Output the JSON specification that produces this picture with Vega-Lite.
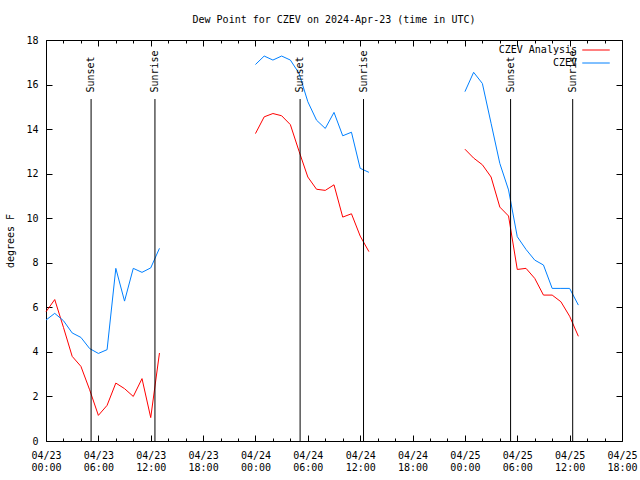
{
  "$schema": "https://vega.github.io/schema/vega-lite/v6.json",
  "width": 576,
  "height": 401,
  "autosize": {"type": "none"},
  "padding": {"left": 46, "top": 40, "right": 18, "bottom": 39},
  "background": "white",
  "title": {"text": "Dew Point for CZEV on 2024-Apr-23 (time in UTC)", "font": "DejaVu Sans Mono", "fontSize": 10, "fontWeight": "normal", "color": "black", "anchor": "middle", "offset": 10},
  "config": {
    "view": {"stroke": "black", "strokeWidth": 1},
    "font": "DejaVu Sans Mono",
    "axis": {"domain": false, "grid": false, "labelFont": "DejaVu Sans Mono", "labelFontSize": 10, "labelColor": "black", "tickColor": "black", "tickWidth": 1, "titleFont": "DejaVu Sans Mono", "titleFontSize": 10, "titleFontWeight": "normal", "titleColor": "black"}
  },
  "datasets": {
    "obs": [
      {"t": "2024-04-23T00:00Z", "s": "CZEV Analysis", "g": 1, "v": 5.8},
      {"t": "2024-04-23T01:00Z", "s": "CZEV Analysis", "g": 1, "v": 6.35},
      {"t": "2024-04-23T02:00Z", "s": "CZEV Analysis", "g": 1, "v": 5.1},
      {"t": "2024-04-23T03:00Z", "s": "CZEV Analysis", "g": 1, "v": 3.8},
      {"t": "2024-04-23T04:00Z", "s": "CZEV Analysis", "g": 1, "v": 3.35},
      {"t": "2024-04-23T05:00Z", "s": "CZEV Analysis", "g": 1, "v": 2.3},
      {"t": "2024-04-23T06:00Z", "s": "CZEV Analysis", "g": 1, "v": 1.15},
      {"t": "2024-04-23T07:00Z", "s": "CZEV Analysis", "g": 1, "v": 1.6},
      {"t": "2024-04-23T08:00Z", "s": "CZEV Analysis", "g": 1, "v": 2.6},
      {"t": "2024-04-23T09:00Z", "s": "CZEV Analysis", "g": 1, "v": 2.35},
      {"t": "2024-04-23T10:00Z", "s": "CZEV Analysis", "g": 1, "v": 2.0},
      {"t": "2024-04-23T11:00Z", "s": "CZEV Analysis", "g": 1, "v": 2.8},
      {"t": "2024-04-23T12:00Z", "s": "CZEV Analysis", "g": 1, "v": 1.05},
      {"t": "2024-04-23T13:00Z", "s": "CZEV Analysis", "g": 1, "v": 3.95},
      {"t": "2024-04-24T00:00Z", "s": "CZEV Analysis", "g": 2, "v": 13.8},
      {"t": "2024-04-24T01:00Z", "s": "CZEV Analysis", "g": 2, "v": 14.55},
      {"t": "2024-04-24T02:00Z", "s": "CZEV Analysis", "g": 2, "v": 14.7},
      {"t": "2024-04-24T03:00Z", "s": "CZEV Analysis", "g": 2, "v": 14.6},
      {"t": "2024-04-24T04:00Z", "s": "CZEV Analysis", "g": 2, "v": 14.2},
      {"t": "2024-04-24T05:00Z", "s": "CZEV Analysis", "g": 2, "v": 13.0},
      {"t": "2024-04-24T06:00Z", "s": "CZEV Analysis", "g": 2, "v": 11.85},
      {"t": "2024-04-24T07:00Z", "s": "CZEV Analysis", "g": 2, "v": 11.3},
      {"t": "2024-04-24T08:00Z", "s": "CZEV Analysis", "g": 2, "v": 11.25},
      {"t": "2024-04-24T09:00Z", "s": "CZEV Analysis", "g": 2, "v": 11.5},
      {"t": "2024-04-24T10:00Z", "s": "CZEV Analysis", "g": 2, "v": 10.05},
      {"t": "2024-04-24T11:00Z", "s": "CZEV Analysis", "g": 2, "v": 10.2},
      {"t": "2024-04-24T12:00Z", "s": "CZEV Analysis", "g": 2, "v": 9.2},
      {"t": "2024-04-24T13:00Z", "s": "CZEV Analysis", "g": 2, "v": 8.5},
      {"t": "2024-04-25T00:00Z", "s": "CZEV Analysis", "g": 3, "v": 13.1},
      {"t": "2024-04-25T01:00Z", "s": "CZEV Analysis", "g": 3, "v": 12.7},
      {"t": "2024-04-25T02:00Z", "s": "CZEV Analysis", "g": 3, "v": 12.4},
      {"t": "2024-04-25T03:00Z", "s": "CZEV Analysis", "g": 3, "v": 11.85},
      {"t": "2024-04-25T04:00Z", "s": "CZEV Analysis", "g": 3, "v": 10.5},
      {"t": "2024-04-25T05:00Z", "s": "CZEV Analysis", "g": 3, "v": 10.1},
      {"t": "2024-04-25T06:00Z", "s": "CZEV Analysis", "g": 3, "v": 7.7},
      {"t": "2024-04-25T07:00Z", "s": "CZEV Analysis", "g": 3, "v": 7.75},
      {"t": "2024-04-25T08:00Z", "s": "CZEV Analysis", "g": 3, "v": 7.3},
      {"t": "2024-04-25T09:00Z", "s": "CZEV Analysis", "g": 3, "v": 6.55},
      {"t": "2024-04-25T10:00Z", "s": "CZEV Analysis", "g": 3, "v": 6.55},
      {"t": "2024-04-25T11:00Z", "s": "CZEV Analysis", "g": 3, "v": 6.25},
      {"t": "2024-04-25T12:00Z", "s": "CZEV Analysis", "g": 3, "v": 5.6},
      {"t": "2024-04-25T13:00Z", "s": "CZEV Analysis", "g": 3, "v": 4.7},
      {"t": "2024-04-23T00:00Z", "s": "CZEV", "g": 4, "v": 5.43},
      {"t": "2024-04-23T01:00Z", "s": "CZEV", "g": 4, "v": 5.73},
      {"t": "2024-04-23T02:00Z", "s": "CZEV", "g": 4, "v": 5.4},
      {"t": "2024-04-23T03:00Z", "s": "CZEV", "g": 4, "v": 4.85},
      {"t": "2024-04-23T04:00Z", "s": "CZEV", "g": 4, "v": 4.65},
      {"t": "2024-04-23T05:00Z", "s": "CZEV", "g": 4, "v": 4.15},
      {"t": "2024-04-23T06:00Z", "s": "CZEV", "g": 4, "v": 3.93},
      {"t": "2024-04-23T07:00Z", "s": "CZEV", "g": 4, "v": 4.1},
      {"t": "2024-04-23T08:00Z", "s": "CZEV", "g": 4, "v": 7.75},
      {"t": "2024-04-23T09:00Z", "s": "CZEV", "g": 4, "v": 6.28},
      {"t": "2024-04-23T10:00Z", "s": "CZEV", "g": 4, "v": 7.75},
      {"t": "2024-04-23T11:00Z", "s": "CZEV", "g": 4, "v": 7.57},
      {"t": "2024-04-23T12:00Z", "s": "CZEV", "g": 4, "v": 7.77},
      {"t": "2024-04-23T13:00Z", "s": "CZEV", "g": 4, "v": 8.65},
      {"t": "2024-04-24T00:00Z", "s": "CZEV", "g": 5, "v": 16.9},
      {"t": "2024-04-24T01:00Z", "s": "CZEV", "g": 5, "v": 17.28},
      {"t": "2024-04-24T02:00Z", "s": "CZEV", "g": 5, "v": 17.1},
      {"t": "2024-04-24T03:00Z", "s": "CZEV", "g": 5, "v": 17.28},
      {"t": "2024-04-24T04:00Z", "s": "CZEV", "g": 5, "v": 17.1},
      {"t": "2024-04-24T05:00Z", "s": "CZEV", "g": 5, "v": 16.5},
      {"t": "2024-04-24T06:00Z", "s": "CZEV", "g": 5, "v": 15.23},
      {"t": "2024-04-24T07:00Z", "s": "CZEV", "g": 5, "v": 14.4},
      {"t": "2024-04-24T08:00Z", "s": "CZEV", "g": 5, "v": 14.03},
      {"t": "2024-04-24T09:00Z", "s": "CZEV", "g": 5, "v": 14.75},
      {"t": "2024-04-24T10:00Z", "s": "CZEV", "g": 5, "v": 13.7},
      {"t": "2024-04-24T11:00Z", "s": "CZEV", "g": 5, "v": 13.86},
      {"t": "2024-04-24T12:00Z", "s": "CZEV", "g": 5, "v": 12.24},
      {"t": "2024-04-24T13:00Z", "s": "CZEV", "g": 5, "v": 12.06},
      {"t": "2024-04-25T00:00Z", "s": "CZEV", "g": 6, "v": 15.68},
      {"t": "2024-04-25T01:00Z", "s": "CZEV", "g": 6, "v": 16.55},
      {"t": "2024-04-25T02:00Z", "s": "CZEV", "g": 6, "v": 16.05},
      {"t": "2024-04-25T03:00Z", "s": "CZEV", "g": 6, "v": 14.26},
      {"t": "2024-04-25T04:00Z", "s": "CZEV", "g": 6, "v": 12.46},
      {"t": "2024-04-25T05:00Z", "s": "CZEV", "g": 6, "v": 11.27},
      {"t": "2024-04-25T06:00Z", "s": "CZEV", "g": 6, "v": 9.17},
      {"t": "2024-04-25T07:00Z", "s": "CZEV", "g": 6, "v": 8.6},
      {"t": "2024-04-25T08:00Z", "s": "CZEV", "g": 6, "v": 8.12},
      {"t": "2024-04-25T09:00Z", "s": "CZEV", "g": 6, "v": 7.9},
      {"t": "2024-04-25T10:00Z", "s": "CZEV", "g": 6, "v": 6.85},
      {"t": "2024-04-25T11:00Z", "s": "CZEV", "g": 6, "v": 6.85},
      {"t": "2024-04-25T12:00Z", "s": "CZEV", "g": 6, "v": 6.85},
      {"t": "2024-04-25T13:00Z", "s": "CZEV", "g": 6, "v": 6.1}
    ],
    "sun": [
      {"t": "2024-04-23T05:10Z", "e": "Sunset"},
      {"t": "2024-04-23T12:29Z", "e": "Sunrise"},
      {"t": "2024-04-24T05:07Z", "e": "Sunset"},
      {"t": "2024-04-24T12:23Z", "e": "Sunrise"},
      {"t": "2024-04-25T05:14Z", "e": "Sunset"},
      {"t": "2024-04-25T12:21Z", "e": "Sunrise"}
    ]
  },
  "layer": [
    {
      "data": {"name": "obs"},
      "mark": {"type": "line", "strokeWidth": 1},
      "encoding": {
        "x": {
          "field": "t", "type": "temporal",
          "scale": {"type": "utc", "nice": false, "domain": [1713830400000, 1714068000000]},
          "axis": {
            "orient": "bottom", "title": null, "offset": -6,
            "values": [1713830400000, 1713837600000, 1713844800000, 1713852000000, 1713859200000, 1713866400000, 1713873600000, 1713880800000, 1713888000000, 1713895200000, 1713902400000, 1713909600000, 1713916800000, 1713924000000, 1713931200000, 1713938400000, 1713945600000, 1713952800000, 1713960000000, 1713967200000, 1713974400000, 1713981600000, 1713988800000, 1713996000000, 1714003200000, 1714010400000, 1714017600000, 1714024800000, 1714032000000, 1714039200000, 1714046400000, 1714053600000, 1714060800000, 1714068000000],
            "tickSize": 6,
            "tickDash": {"condition": {"test": "utchours(datum.value) % 6 != 0", "value": [0, 3, 3, 20]}, "value": [6, 20]},
            "labelExpr": "utchours(datum.value) % 6 == 0 ? [utcFormat(datum.value, '%m/%d'), utcFormat(datum.value, '%H:%M')] : ''",
            "labelPadding": 9, "labelBaseline": "top", "labelLineHeight": 12,
            "labelOverlap": false, "labelFlush": false, "labelBound": false
          }
        },
        "y": {
          "field": "v", "type": "quantitative",
          "scale": {"domain": [0, 18], "nice": false},
          "axis": {"orient": "left", "offset": -6, "title": "degrees F", "values": [0, 2, 4, 6, 8, 10, 12, 14, 16, 18], "tickSize": 6, "labelPadding": 8, "titlePadding": 10}
        },
        "color": {
          "field": "s", "type": "nominal",
          "scale": {"domain": ["CZEV Analysis", "CZEV"], "range": ["#ff0000", "#0080ff"]},
          "legend": {"orient": "none", "legendX": 544, "legendY": 4, "title": null, "padding": 0, "symbolType": "M-2.5,0H2.5", "symbolSize": 121, "symbolStrokeWidth": 1, "labelAlign": "right", "labelOffset": -25, "labelFont": "DejaVu Sans Mono", "labelFontSize": 10, "labelColor": "black", "rowPadding": 2, "labelLimit": 0}
        },
        "detail": {"field": "g", "type": "nominal"}
      }
    },
    {
      "data": {"name": "sun"},
      "mark": {"type": "rule", "color": "black", "strokeWidth": 1},
      "encoding": {
        "x": {
          "field": "t", "type": "temporal",
          "axis": {"orient": "top", "offset": -6, "title": null, "labels": false,
            "values": [1713830400000, 1713837600000, 1713844800000, 1713852000000, 1713859200000, 1713866400000, 1713873600000, 1713880800000, 1713888000000, 1713895200000, 1713902400000, 1713909600000, 1713916800000, 1713924000000, 1713931200000, 1713938400000, 1713945600000, 1713952800000, 1713960000000, 1713967200000, 1713974400000, 1713981600000, 1713988800000, 1713996000000, 1714003200000, 1714010400000, 1714017600000, 1714024800000, 1714032000000, 1714039200000, 1714046400000, 1714053600000, 1714060800000, 1714068000000],
            "tickSize": 6,
            "tickDash": {"condition": {"test": "utchours(datum.value) % 6 != 0", "value": [0, 3, 3, 20]}, "value": [6, 20]}}
        },
        "y": {"datum": 0, "type": "quantitative", "axis": {"orient": "right", "offset": -6, "title": null, "labels": false, "values": [0, 2, 4, 6, 8, 10, 12, 14, 16, 18], "tickSize": 6}},
        "y2": {"datum": 15.35}
      }
    },
    {
      "data": {"name": "sun"},
      "mark": {"type": "text", "angle": 270, "align": "left", "baseline": "middle", "font": "DejaVu Sans Mono", "fontSize": 10, "color": "black"},
      "encoding": {
        "x": {"field": "t", "type": "temporal", "axis": null},
        "y": {"datum": 15.64, "type": "quantitative", "axis": null},
        "text": {"field": "e"}
      }
    }
  ],
  "resolve": {"axis": {"x": "independent", "y": "independent"}}
}
